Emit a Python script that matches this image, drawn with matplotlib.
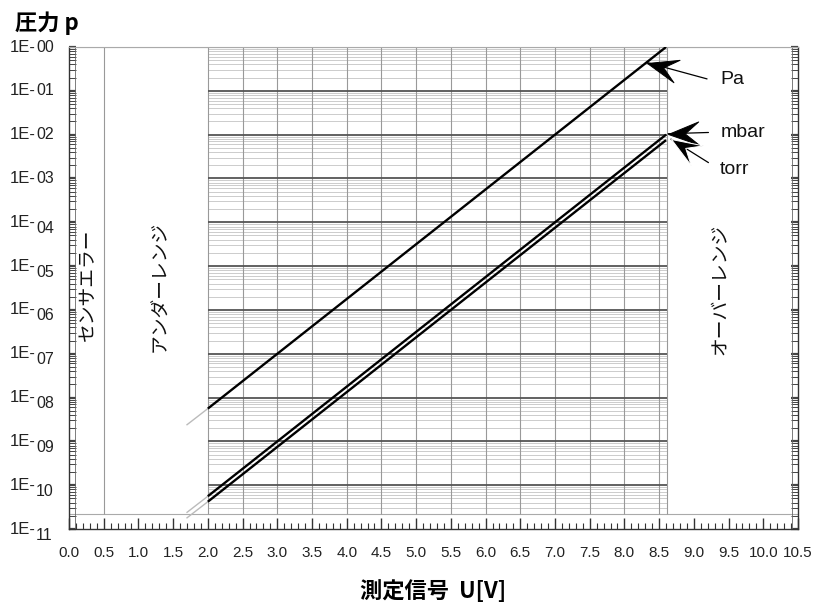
import numpy as np
import matplotlib.pyplot as plt
from matplotlib.ticker import MultipleLocator, LogLocator, NullFormatter, FormatStrFormatter
from matplotlib.markers import MarkerStyle
from matplotlib.path import Path
from matplotlib.transforms import Affine2D

plt.rcParams['font.family'] = ['Liberation Sans', 'DejaVu Sans']
JP = ['Noto Sans CJK JP', 'DejaVu Sans']

# line end points (signal in V, pressure)
U_LINE = [2.0, 8.6]
P_PA = [5.6e-9, 1.0]
P_MBAR = [5.6e-11, 1.0e-2]
P_TORR = [4.2e-11, 7.5e-3]

# faint continuation below 2 V
U_EXT = [1.7, 2.0]
P_PA_EXT = [2.4e-9, 5.6e-9]
P_MBAR_EXT = [2.4e-11, 5.6e-11]
P_TORR_EXT = [1.8e-11, 4.2e-11]

# y tick labels 1E-00 .. 1E-11
Y_EXP = list(range(12))
Y_DIGITS = ['%02d' % e for e in Y_EXP]

# ranges
GRID_U = (2.0, 8.62)
SENSOR_U = 0.5
FRAME_P = (2.2e-11, 1.0)

# region captions
REGION_TEXT = ['センサエラー', 'アンダーレンジ', 'オーバーレンジ']
REGION_U = [0.27, 1.31, 9.38]
REGION_P = [3.7e-6, 3.4e-6, 3.0e-6]

# unit labels and arrows
UNIT_NAMES = ['Pa', 'mbar', 'torr']
UNIT_U = [9.38, 9.38, 9.38]
UNIT_P = [0.178, 0.0112, 0.00158]
TAIL_U = [9.19, 9.21, 9.21]
TAIL_P = [0.187, 0.0112, 0.0023]
TIP_U = [8.33, 8.63, 8.67]
TIP_P = [0.44, 0.0105, 0.0079]

fig = plt.figure(figsize=(8.3, 6.07), dpi=100)
ax = fig.add_axes([69 / 830, 1 - 529 / 607, 729 / 830, 482 / 607])
ax.set_yscale('log')
ax.set_xlim(0, 10.5)
ax.set_ylim(1e-11, 1.0)

# grid block between 2 V and the overrange
decades = [10.0 ** -e for e in Y_EXP if 10.0 ** -e >= FRAME_P[0]]
minors = [m * d for d in decades for m in range(2, 10) if FRAME_P[0] < m * d < 1.0]
minors += [m * 1e-11 for m in range(3, 10)]
ax.hlines(minors, GRID_U[0], GRID_U[1], color='#c4c4c4', lw=0.6, zorder=1)
ax.hlines(decades, GRID_U[0], GRID_U[1], color='#555555', lw=1.3, zorder=1.5)
v_lines = list(np.arange(2.0, 8.51, 0.5)) + [GRID_U[1]]
ax.vlines(v_lines, FRAME_P[0], FRAME_P[1], color='#999999', lw=0.8, zorder=1.2)

# outer frame lines
ax.hlines(FRAME_P, 0, 10.5, color='#aaaaaa', lw=0.8, zorder=1)
ax.vlines(SENSOR_U, FRAME_P[0], FRAME_P[1], color='#999999', lw=0.8, zorder=1)
ax.axvline(0.09, color='#666666', lw=0.6)
ax.axvline(10.41, color='#666666', lw=0.6)

# pressure lines
for p_ext in (P_PA_EXT, P_MBAR_EXT, P_TORR_EXT):
    ax.plot(U_EXT, p_ext, color='#bbbbbb', lw=1.0, zorder=2)
for p in (P_PA, P_MBAR, P_TORR):
    ax.plot(U_LINE, p, color='black', lw=1.7, solid_capstyle='butt', zorder=3)

# axes styling
for side in ('left', 'right', 'bottom'):
    ax.spines[side].set_color('#333333')
    ax.spines[side].set_linewidth(1.0)
ax.spines['top'].set_color('#aaaaaa')
ax.spines['top'].set_linewidth(0.8)

ax.xaxis.set_major_locator(MultipleLocator(0.5))
ax.xaxis.set_minor_locator(MultipleLocator(0.1))
ax.xaxis.set_major_formatter(FormatStrFormatter('%.1f'))
ax.tick_params(axis='x', which='major', direction='in', length=8, width=1.0,
               color='#333333', labelsize=11, pad=12, labelcolor='#222222')
ax.tick_params(axis='x', which='minor', direction='in', length=4, width=0.8,
               color='#333333')

ax.yaxis.set_major_locator(LogLocator(base=10, numticks=20))
ax.yaxis.set_minor_locator(LogLocator(base=10, subs=np.arange(2, 10), numticks=20))
ax.yaxis.set_major_formatter(NullFormatter())
ax.yaxis.set_minor_formatter(NullFormatter())
ax.tick_params(axis='y', which='both', direction='in', left=True, right=True,
               color='#444444')
ax.tick_params(axis='y', which='major', length=5, width=1.6)
ax.tick_params(axis='y', which='minor', length=5, width=0.7)

# y labels with lowered exponent digits from 1E-04 on
ytrans = ax.get_yaxis_transform()
for e, dg in zip(Y_EXP, Y_DIGITS):
    val = 10.0 ** -e
    ax.annotate('1E-', xy=(0, val), xycoords=ytrans, xytext=(-33, 0),
                textcoords='offset pixels', ha='right', va='center',
                fontsize=12, color='#222222')
    drop = 0 if e < 4 else -6
    ax.annotate(dg, xy=(0, val), xycoords=ytrans, xytext=(-33, drop),
                textcoords='offset pixels', ha='left', va='center',
                fontsize=11.5, color='#222222')

# region captions
for txt, u, p in zip(REGION_TEXT, REGION_U, REGION_P):
    ax.text(u, p, txt, rotation=90, ha='center', va='center',
            fontsize=13.5, family=JP, color='#111111')

# unit labels with arrows
HEAD = Path([(0, 0), (-1, 0.38), (-0.55, 0), (-1, -0.38), (0, 0)],
            [Path.MOVETO, Path.LINETO, Path.LINETO, Path.LINETO, Path.CLOSEPOLY])


def arrow(tail, tip, edge='black'):
    ax.annotate('', xy=tip, xytext=tail,
                arrowprops=dict(arrowstyle='-', lw=0.9, color='black',
                                shrinkA=0, shrinkB=0), zorder=4)
    (x0, y0), (x1, y1) = ax.transData.transform([tail, tip])
    ang = np.degrees(np.arctan2(y1 - y0, x1 - x0))
    head = MarkerStyle(HEAD, transform=Affine2D().rotate_deg(ang))
    ax.plot([tip[0]], [tip[1]], marker=head, ms=44, color='black',
            mec=edge, mew=0.7, zorder=5)


for i, name in enumerate(UNIT_NAMES):
    ax.text(UNIT_U[i], UNIT_P[i], name, ha='left', va='center',
            fontsize=14, color='#111111')
    arrow((TAIL_U[i], TAIL_P[i]), (TIP_U[i], TIP_P[i]),
          edge='white' if name == 'torr' else 'black')

fig.text(15 / 830, 1 - 23 / 607, '圧力 p', ha='left', va='center',
         fontsize=16, weight='bold', family=JP)
fig.text(433 / 830, 1 - 591 / 607, '測定信号  U[V]', ha='center', va='center',
         fontsize=16, weight='bold', family=JP)

fig.savefig('out.png', dpi=100)
